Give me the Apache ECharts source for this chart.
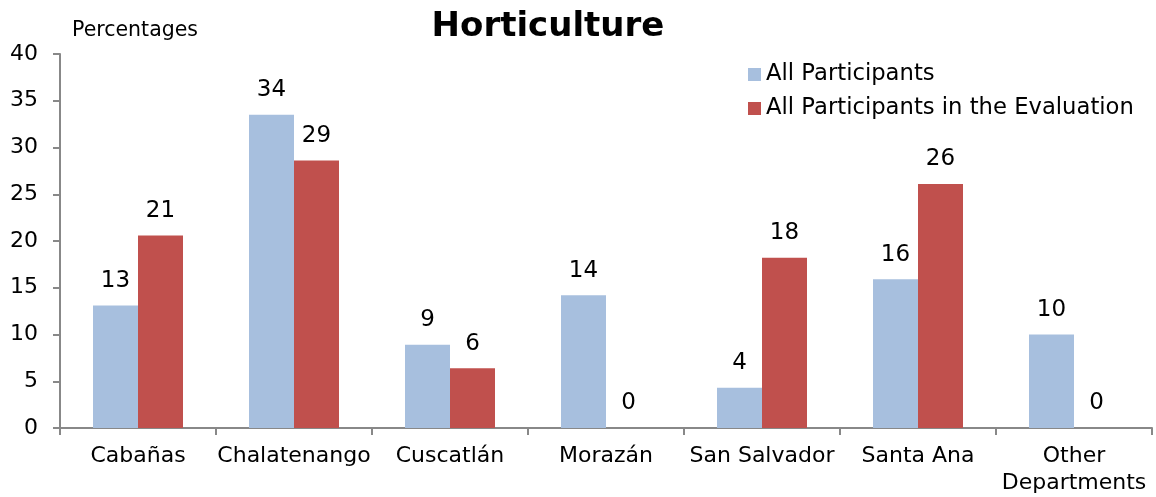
<!DOCTYPE html>
<html>
<head>
<meta charset="utf-8">
<script src="https://cdn.jsdelivr.net/npm/echarts@6/dist/echarts.min.js"></script>
<style>
  html, body { margin: 0; padding: 0; background: #fff; }
  #chart { width: 1156px; height: 497px; }
</style>
</head>
<body>
<div id="chart"></div>
<script>
const categories = ['Cabañas', 'Chalatenango', 'Cuscatlán', 'Morazán', 'San Salvador', 'Santa Ana', 'Other\nDepartments']
const allParticipants = [13.1, 33.5, 8.9, 14.2, 4.3, 15.9, 10.0]
const evaluationParticipants = [20.6, 28.6, 6.4, 0, 18.2, 26.1, 0]
const seriesNames = ['All Participants', 'All Participants in the Evaluation']

const chart = echarts.init(document.getElementById('chart'))

const font = 'DejaVu Sans'
const labelStyle = {
  show: true,
  position: 'top',
  distance: 13,
  color: '#000',
  fontFamily: font,
  fontSize: 23,
  formatter: p => Math.round(p.value)
}

const option = {
  animation: false,
  title: [
    {
      text: 'Horticulture',
      left: 543,
      textAlign: 'center',
      top: 5,
      textStyle: { fontFamily: font, fontSize: 34, fontWeight: 'bold', color: '#000' }
    },
    {
      text: 'Percentages',
      left: 67,
      top: 15,
      textStyle: { fontFamily: font, fontSize: 20.5, fontWeight: 'normal', color: '#000' }
    }
  ],
  legend: {
    data: seriesNames,
    orient: 'vertical',
    left: 743,
    top: 58,
    itemWidth: 13,
    itemHeight: 13,
    itemGap: 11,
    icon: 'rect',
    textStyle: { fontFamily: font, fontSize: 22.7, color: '#000' }
  },
  grid: {
    left: 60,
    right: 4,
    top: 54,
    bottom: 67,
    containLabel: false
  },
  xAxis: {
    type: 'category',
    data: categories,
    axisLine: { lineStyle: { color: '#888', width: 2 } },
    axisTick: { show: true, length: 7, lineStyle: { color: '#888', width: 2 } },
    axisLabel: {
      interval: 0,
      color: '#000',
      fontFamily: font,
      fontSize: 22,
      margin: 15,
      lineHeight: 27
    }
  },
  yAxis: {
    type: 'value',
    min: 0,
    max: 40,
    interval: 5,
    axisLine: { show: true, lineStyle: { color: '#888', width: 2 } },
    axisTick: { show: true, length: 7, lineStyle: { color: '#888', width: 2 } },
    splitLine: { show: false },
    axisLabel: {
      color: '#000',
      fontFamily: font,
      fontSize: 22,
      margin: 22
    }
  },
  series: [
    {
      name: seriesNames[0],
      type: 'bar',
      data: allParticipants,
      barWidth: 45,
      barGap: '0%',
      itemStyle: { color: '#A7BFDE' },
      label: labelStyle
    },
    {
      name: seriesNames[1],
      type: 'bar',
      data: evaluationParticipants,
      barWidth: 45,
      barGap: '0%',
      itemStyle: { color: '#C0504D' },
      label: labelStyle
    }
  ]
}

chart.setOption(option)
</script>
</body>
</html>
